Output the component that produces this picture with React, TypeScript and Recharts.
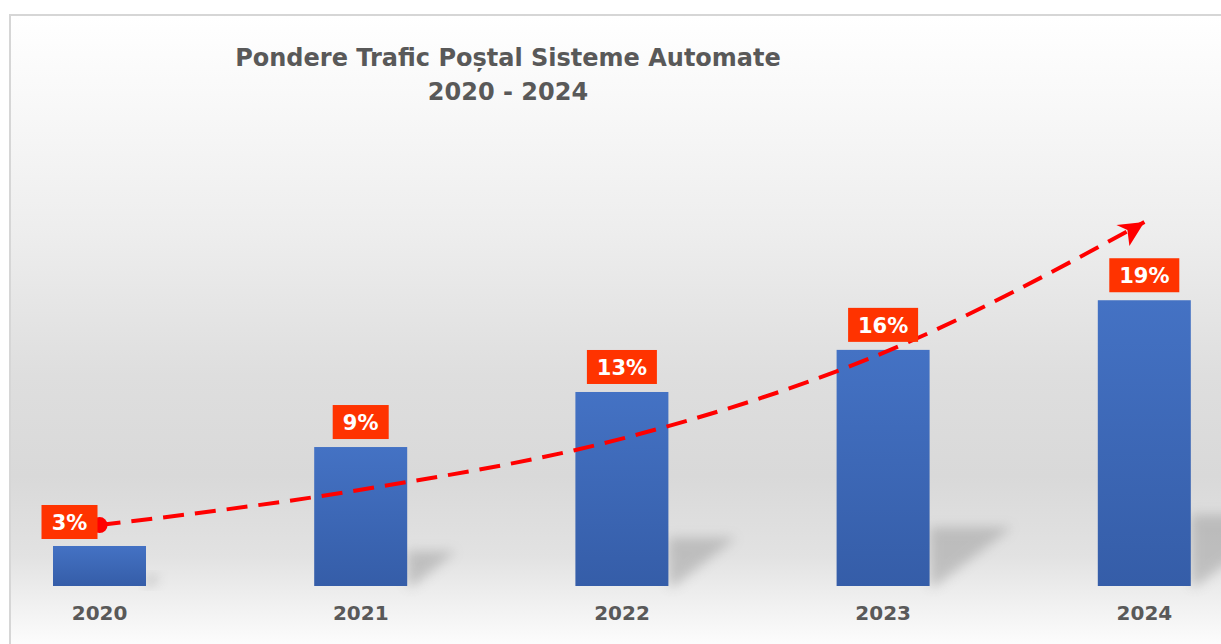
import React from 'react';
import { ComposedChart, Bar, Line, XAxis, YAxis, LabelList } from 'recharts';

const years = ['2020', '2021', '2022', '2023', '2024'];
const shares = [2.66, 9.24, 12.9, 15.7, 19.0];
const trend = [4.05, 6.4, 9.8, 15.5, 24.2];

const chartData = years.map((year, i) => ({ year, share: shares[i], trend: trend[i] }));

const FONT = "'DejaVu Sans', Verdana, sans-serif";
const RED = '#FF0000';

const BarWithShadow = (props: any) => {
  const { x, y, width, height, index } = props;
  if (height <= 0) return null;
  const base = y + height;
  const right = x + width;
  const sh = height * 0.25;
  const sw = sh * 1.4;
  return (
    <g key={`b-${index}`}>
      <polygon
        points={`${right},${base - sh} ${right + sw},${base - sh} ${right + 6},${base} ${right},${base}`}
        fill="#8c8c8c"
        opacity={0.42}
        filter="url(#shadowBlur)"
      />
      <rect x={x} y={y} width={width} height={height} fill="url(#barFill)" />
    </g>
  );
};

const ValueBox = (props: any) => {
  const { x, y, width, value, index } = props;
  const text = `${Math.round(value)}%`;
  const boxW = text.length > 2 ? 70 : 56;
  const boxH = 34;
  let cx = x + width / 2;
  let cy = y - 8 - boxH / 2;
  if (index === 0) {
    // first label sits to the left of the trend start point
    cx = x + width / 2 - 30;
    cy = y - 24;
  }
  return (
    <g>
      <rect x={cx - boxW / 2} y={cy - boxH / 2} width={boxW} height={boxH} fill="#FF3300" />
      <text
        x={cx}
        y={cy + 1}
        textAnchor="middle"
        dominantBaseline="central"
        fill="#fff"
        fontFamily={FONT}
        fontWeight="bold"
        fontSize={21}
      >
        {text}
      </text>
    </g>
  );
};

const TrendEnd = (props: any) => {
  const { cx, cy, index } = props;
  if (index === 0) {
    return <circle key={`d-${index}`} cx={cx} cy={cy} r={8} fill={RED} />;
  }
  if (index === years.length - 1) {
    return (
      <polygon
        key={`d-${index}`}
        points={`${cx},${cy} ${cx - 28},${cy + 3} ${cx - 17},${cy + 8} ${cx - 15},${cy + 24}`}
        fill={RED}
      />
    );
  }
  return <g key={`d-${index}`} />;
};

export default function App() {
  return (
    <div style={{ position: 'absolute', left: 0, top: 0, width: 1221, height: 644, overflow: 'hidden', background: '#fff' }}>
      <div
        style={{
          position: 'absolute',
          left: 9,
          top: 14,
          width: 1300,
          height: 700,
          borderLeft: '2px solid #d6d6d6',
          borderTop: '2px solid #d6d6d6',
          background:
            'linear-gradient(to bottom, #ffffff 0px, #f8f8f8 90px, #ededed 220px, #dedede 360px, #d9d9d9 460px, #e2e2e2 540px, #eeeeee 580px, #f7f7f7 610px, #fdfdfd 630px)',
        }}
      />
      <div
        style={{
          position: 'absolute',
          left: 208,
          top: 41,
          width: 600,
          textAlign: 'center',
          fontFamily: FONT,
          fontWeight: 'bold',
          fontSize: 24,
          lineHeight: '34px',
          color: '#595959',
        }}
      >
        Pondere Trafic Poștal Sisteme Automate
        <br />
        2020 - 2024
      </div>
      <div style={{ position: 'absolute', left: -31, top: 200 }}>
        <ComposedChart width={1306} height={436} data={chartData} margin={{ top: 10, right: 0, left: 0, bottom: 0 }}>
          <defs>
            <linearGradient id="barFill" x1="0" y1="0" x2="0" y2="1">
              <stop offset="0%" stopColor="#4472C4" />
              <stop offset="100%" stopColor="#355DA8" />
            </linearGradient>
            <filter id="shadowBlur" x="-50%" y="-50%" width="200%" height="200%">
              <feGaussianBlur stdDeviation="6" />
            </filter>
          </defs>
          <XAxis
            dataKey="year"
            axisLine={false}
            tickLine={false}
            tickSize={0}
            tickMargin={20}
            height={50}
            tick={{ fill: '#595959', fontSize: 20, fontWeight: 'bold', fontFamily: FONT }}
          />
          <YAxis hide domain={[0, 25]} />
          <Bar dataKey="share" barSize={93} shape={<BarWithShadow />} isAnimationActive={false}>
            <LabelList dataKey="share" content={<ValueBox />} />
          </Bar>
          <Line
            dataKey="trend"
            type="monotone"
            stroke={RED}
            strokeWidth={4}
            strokeDasharray="21 11"
            dot={(p: any) => <TrendEnd key={`t-${p.index}`} {...p} />}
            activeDot={false}
            isAnimationActive={false}
          />
        </ComposedChart>
      </div>
    </div>
  );
}
